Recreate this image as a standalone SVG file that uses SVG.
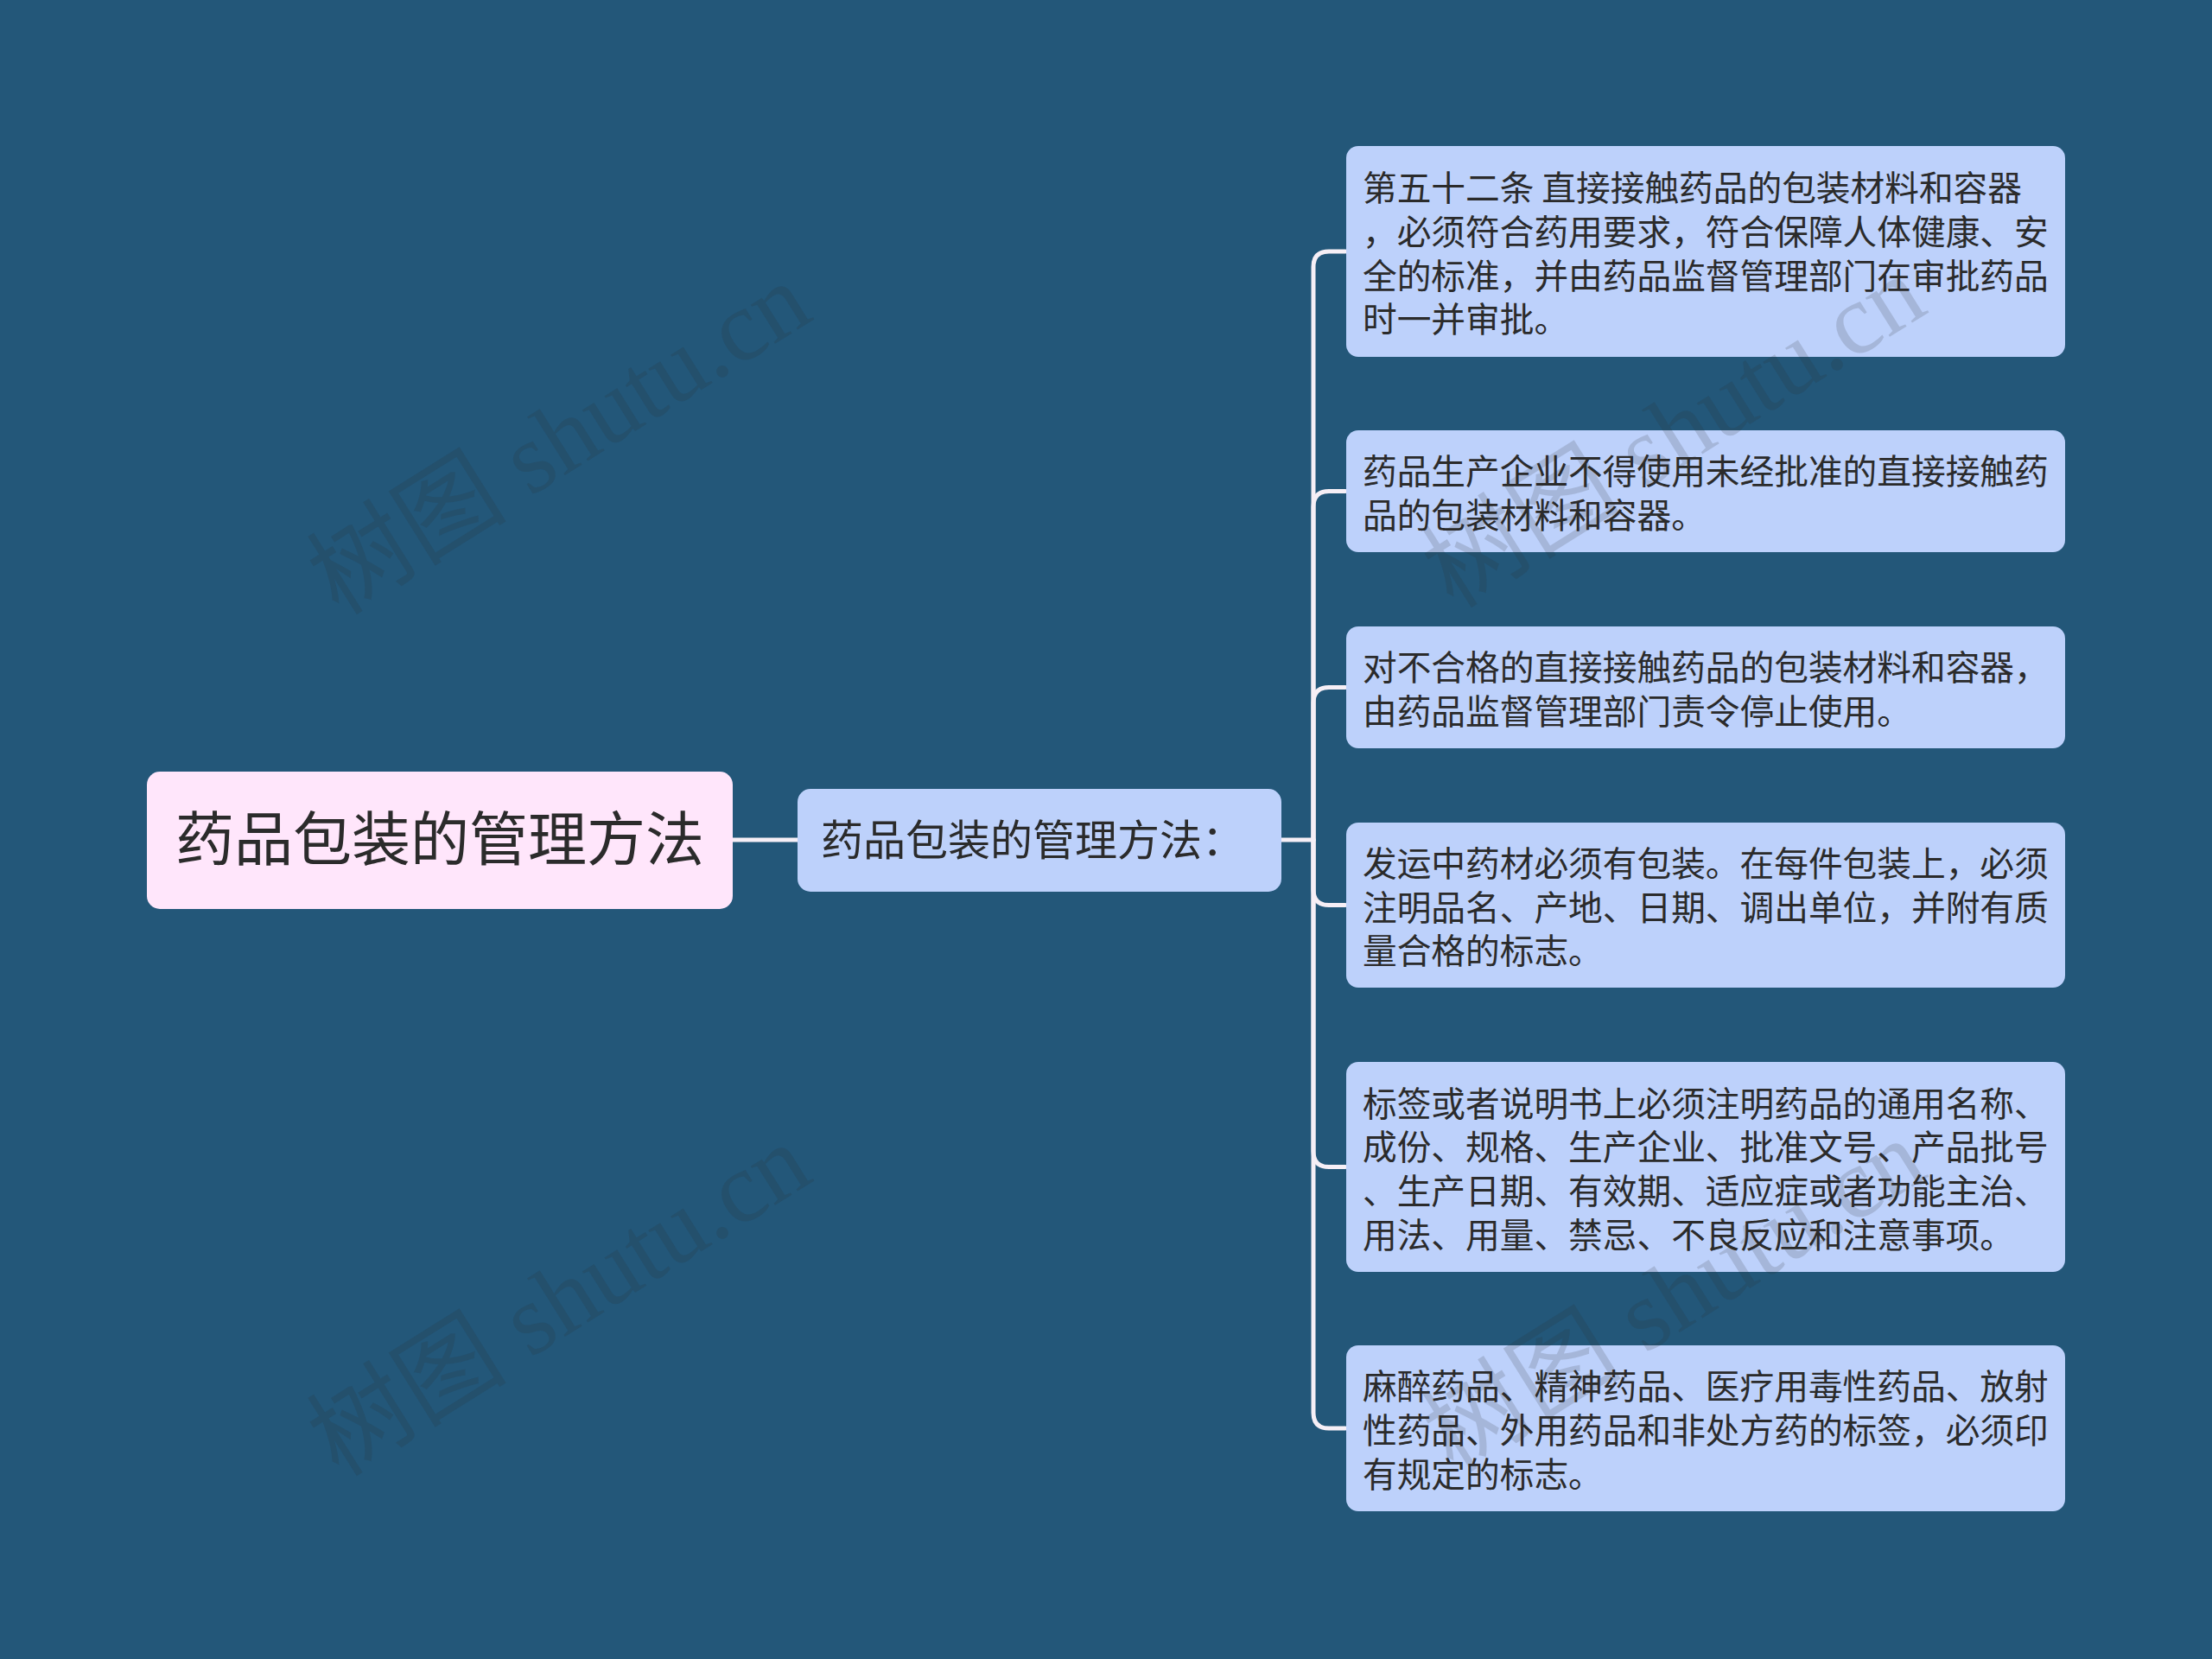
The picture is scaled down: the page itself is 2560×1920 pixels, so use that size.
<svg xmlns="http://www.w3.org/2000/svg" width="2560" height="1920" viewBox="0 0 2560 1920">
<style>
.bg{fill:#235779}
.root{fill:#ffe6fb}
.box{fill:#bdd1fb}
.t{font-family:"Noto Sans CJK SC","Noto Sans",sans-serif;fill:#2b2b2b}
.lt{font-size:39.7px}
.conn{fill:none;stroke:#f6eff6;stroke-width:5;stroke-linecap:round}
.wm{font-family:"Liberation Serif","Noto Sans CJK SC",serif;font-size:116px;fill:#2a2a2a;fill-opacity:0.16}
</style>
<rect class="bg" x="0" y="0" width="2560" height="1920"/>
<g id="connectors">
<path class="conn" d="M848 972H923"/>
<path class="conn" d="M1483 972H1520"/>
<path class="conn" d="M1520 972V309Q1520 291 1538 291H1557"/>
<path class="conn" d="M1520 972V586.5Q1520 568.5 1538 568.5H1557"/>
<path class="conn" d="M1520 972V813.5Q1520 795.5 1538 795.5H1557"/>
<path class="conn" d="M1520 972V1029.5Q1520 1047.5 1538 1047.5H1557"/>
<path class="conn" d="M1520 972V1332.5Q1520 1350.5 1538 1350.5H1557"/>
<path class="conn" d="M1520 972V1635Q1520 1653 1538 1653H1557"/>
</g>
<g id="root">
<rect class="root" x="170" y="893" width="678" height="159" rx="15"/>
<text class="t" x="509" y="996" font-size="68" text-anchor="middle">药品包装的管理方法</text>
</g>
<g id="sub">
<rect class="box" x="923" y="913" width="560" height="119" rx="15"/>
<text class="t" x="950" y="990" font-size="49">药品包装的管理方法：</text>
</g>
<g id="leaf1">
<rect class="box" x="1558" y="169" width="832" height="244" rx="14"/>
<text class="t lt" x="1577" y="232">第五十二条 直接接触药品的包装材料和容器</text>
<text class="t lt" x="1577" y="283">，必须符合药用要求，符合保障人体健康、安</text>
<text class="t lt" x="1577" y="333.5">全的标准，并由药品监督管理部门在审批药品</text>
<text class="t lt" x="1577" y="384">时一并审批。</text>
</g>
<g id="leaf2">
<rect class="box" x="1558" y="498" width="832" height="141" rx="14"/>
<text class="t lt" x="1577" y="560">药品生产企业不得使用未经批准的直接接触药</text>
<text class="t lt" x="1577" y="611">品的包装材料和容器。</text>
</g>
<g id="leaf3">
<rect class="box" x="1558" y="725" width="832" height="141" rx="14"/>
<text class="t lt" x="1577" y="787">对不合格的直接接触药品的包装材料和容器，</text>
<text class="t lt" x="1577" y="838">由药品监督管理部门责令停止使用。</text>
</g>
<g id="leaf4">
<rect class="box" x="1558" y="952" width="832" height="191" rx="14"/>
<text class="t lt" x="1577" y="1014">发运中药材必须有包装。在每件包装上，必须</text>
<text class="t lt" x="1577" y="1064.5">注明品名、产地、日期、调出单位，并附有质</text>
<text class="t lt" x="1577" y="1115">量合格的标志。</text>
</g>
<g id="leaf5">
<rect class="box" x="1558" y="1229" width="832" height="243" rx="14"/>
<text class="t lt" x="1577" y="1291.5">标签或者说明书上必须注明药品的通用名称、</text>
<text class="t lt" x="1577" y="1342">成份、规格、生产企业、批准文号、产品批号</text>
<text class="t lt" x="1577" y="1393">、生产日期、有效期、适应症或者功能主治、</text>
<text class="t lt" x="1577" y="1443.5">用法、用量、禁忌、不良反应和注意事项。</text>
</g>
<g id="leaf6">
<rect class="box" x="1558" y="1557" width="832" height="192" rx="14"/>
<text class="t lt" x="1577" y="1619">麻醉药品、精神药品、医疗用毒性药品、放射</text>
<text class="t lt" x="1577" y="1670">性药品、外用药品和非处方药的标签，必须印</text>
<text class="t lt" x="1577" y="1721">有规定的标志。</text>
</g>
<g id="watermarks">
<text class="wm" text-anchor="middle" transform="translate(668,541) rotate(-32)">树图 shutu.cn</text>
<text class="wm" text-anchor="middle" transform="translate(1958,533) rotate(-32)">树图 shutu.cn</text>
<text class="wm" text-anchor="middle" transform="translate(668,1538) rotate(-32)">树图 shutu.cn</text>
<text class="wm" text-anchor="middle" transform="translate(1958,1533) rotate(-32)">树图 shutu.cn</text>
</g>
</svg>
